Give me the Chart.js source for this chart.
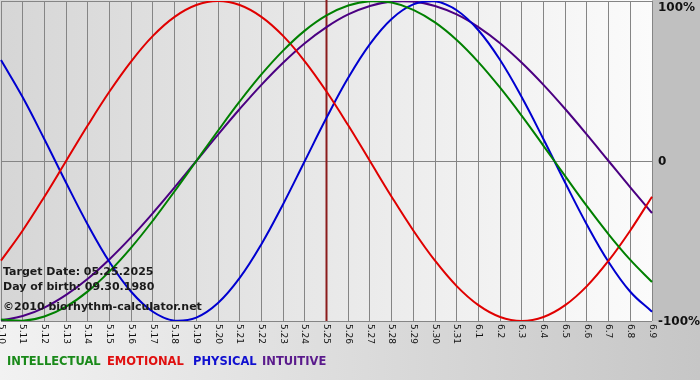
<!DOCTYPE html>
<html>
<head>
<meta charset="utf-8">
<script src="https://cdn.jsdelivr.net/npm/chart.js@4/dist/chart.umd.min.js"></script>
<style>
html,body{margin:0;padding:0;background:#fff;}
canvas{display:block;}
</style>
</head>
<body>
<canvas id="c" width="700" height="380"></canvas>
<script>
const days = ['5.10','5.11','5.12','5.13','5.14','5.15','5.16','5.17','5.18','5.19','5.20','5.21','5.22','5.23','5.24','5.25','5.26','5.27','5.28','5.29','5.30','5.31','6.1','6.2','6.3','6.4','6.5','6.6','6.7','6.8','6.9'];
const intellectual = [-99.0,-99.9,-97.2,-91.0,-81.5,-69.0,-54.1,-37.2,-18.9,0,18.9,37.2,54.1,69.0,81.5,91.0,97.2,99.9,99.0,94.5,86.6,75.6,61.8,45.8,28.2,9.5,-9.5,-28.2,-45.8,-61.8,-75.6];
const emotional = [-62.3,-43.4,-22.3,0,22.3,43.4,62.3,78.2,90.1,97.5,100,97.5,90.1,78.2,62.3,43.4,22.3,0,-22.3,-43.4,-62.3,-78.2,-90.1,-97.5,-100,-97.5,-90.1,-78.2,-62.3,-43.4,-22.3];
const physical = [63.1,39.8,13.6,-13.6,-39.8,-63.1,-81.7,-94.2,-99.8,-97.9,-88.8,-73.1,-52.0,-27.0,0,27.0,52.0,73.1,88.8,97.9,99.8,94.2,81.7,63.1,39.8,13.6,-13.6,-39.8,-63.1,-81.7,-94.2];
const intuitive = [-99.7,-96.9,-91.6,-83.7,-73.6,-61.4,-47.6,-32.5,-16.5,0,16.5,32.5,47.6,61.4,73.6,83.7,91.6,96.9,99.7,99.7,96.9,91.6,83.7,73.6,61.4,47.6,32.5,16.5,0,-16.5,-32.5];
const yTickValues = [100, 0, -100];
const yTickLabels = ['100%', '0', '-100%'];
const targetDay = '5.25';
const infoLines = ['Target Date: 05.25.2025', 'Day of birth: 09.30.1980', '\u00a92010 biorhythm-calculator.net'];

const legendColors = ['#1a8a1a', '#e01010', '#1010d0', '#5a1a8c'];
const legendX = [7, 107, 193, 262];

const deco = {
  id: 'deco',
  beforeDraw(chart) {
    const ctx = chart.ctx;
    const a = chart.chartArea;
    ctx.save();
    let g = ctx.createLinearGradient(0, 0, 700, 0);
    g.addColorStop(0, '#f2f2f2');
    g.addColorStop(1, '#c6c6c6');
    ctx.fillStyle = g;
    ctx.fillRect(0, 0, 700, 380);
    ctx.fillStyle = '#c0c0c0';
    ctx.fillRect(a.right, 0, 700 - a.right, a.bottom);
    g = ctx.createLinearGradient(a.left, 0, a.right, 0);
    g.addColorStop(0, '#d6d6d6');
    g.addColorStop(1, '#fbfbfb');
    ctx.fillStyle = g;
    ctx.fillRect(0, 0, a.right, a.bottom);
    ctx.restore();
  },
  beforeDatasetsDraw(chart) {
    const ctx = chart.ctx;
    const a = chart.chartArea;
    const x = chart.scales.x.getPixelForValue(days.indexOf(targetDay));
    ctx.save();
    ctx.strokeStyle = '#8b1c1c';
    ctx.lineWidth = 2;
    ctx.beginPath();
    ctx.moveTo(x, 0);
    ctx.lineTo(x, a.bottom);
    ctx.stroke();
    ctx.restore();
  },
  afterDraw(chart) {
    const ctx = chart.ctx;
    const a = chart.chartArea;
    const xs = chart.scales.x, ys = chart.scales.y;
    ctx.save();
    ctx.fillStyle = '#111';
    ctx.font = 'bold 12px "DejaVu Sans"';
    ctx.textBaseline = 'middle';
    ctx.textAlign = 'left';
    yTickValues.forEach((v, i) => {
      let y = ys.getPixelForValue(v);
      if (i === 0) y += 6;
      ctx.fillText(yTickLabels[i], a.right + 6, y + 1);
    });
    ctx.font = '9px "DejaVu Sans"';
    ctx.fillStyle = '#111';
    days.forEach((d, i) => {
      const x = xs.getPixelForValue(i);
      ctx.save();
      ctx.translate(x, a.bottom + 3);
      ctx.rotate(Math.PI / 2);
      ctx.textAlign = 'left';
      ctx.textBaseline = 'middle';
      ctx.fillText(d, 0, 0);
      ctx.restore();
    });
    ctx.font = 'bold 11.5px "DejaVu Sans"';
    ctx.textBaseline = 'middle';
    chart.data.datasets.forEach((ds, i) => {
      ctx.fillStyle = legendColors[i];
      ctx.fillText(ds.label, legendX[i], 362);
    });
    ctx.fillStyle = '#1a1a1a';
    ctx.font = 'bold 11px "DejaVu Sans"';
    ctx.fillText(infoLines[0], 3, 272);
    ctx.fillText(infoLines[1], 3, 287);
    ctx.fillText(infoLines[2], 3, 307);
    ctx.restore();
  }
};

new Chart(document.getElementById('c'), {
  type: 'line',
  data: {
    labels: days,
    datasets: [
      { label: 'INTELLECTUAL', data: intellectual, borderColor: '#008000' },
      { label: 'EMOTIONAL', data: emotional, borderColor: '#e00000' },
      { label: 'PHYSICAL', data: physical, borderColor: '#0000d0' },
      { label: 'INTUITIVE', data: intuitive, borderColor: '#4b0082' }
    ]
  },
  options: {
    responsive: false,
    devicePixelRatio: 1,
    animation: false,
    layout: { padding: { left: 1, top: 1, right: 48, bottom: 59 } },
    elements: {
      point: { radius: 0 },
      line: { borderWidth: 2, tension: 0.4, fill: false }
    },
    plugins: { legend: { display: false }, tooltip: { enabled: false } },
    scales: {
      x: {
        offset: false,
        grid: { color: '#858585', drawTicks: false, lineWidth: 1 },
        border: { display: false },
        ticks: { display: false }
      },
      y: {
        min: -100, max: 100,
        position: 'right',
        grid: { color: '#858585', drawTicks: false },
        border: { display: false },
        ticks: { display: false, stepSize: 100 }
      }
    }
  },
  plugins: [deco]
});
</script>
</body>
</html>
